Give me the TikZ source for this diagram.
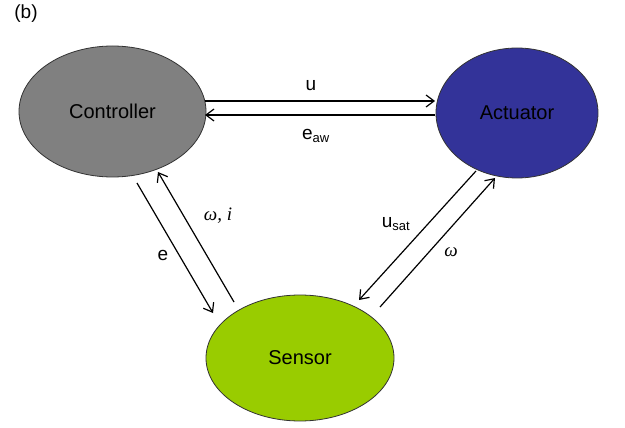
\documentclass[tikz,border=0pt]{standalone}
\usepackage{fontspec}
\setmainfont{Liberation Sans}
\newfontfamily\grfont{Liberation Serif}
\usetikzlibrary{shapes.geometric,arrows.meta,calc}
\definecolor{ctrlgray}{RGB}{128,128,128}
\definecolor{actblue}{RGB}{51,51,153}
\definecolor{sensgreen}{RGB}{153,204,0}
\tikzset{
  blob/.style={ellipse,draw=black!80,line width=0.8pt,inner sep=0pt,
    font=\fontsize{20}{24}\selectfont},
  sig/.style={line width=1.2pt,-{Straight Barb[length=8pt,width=12pt,line width=1.2pt]}},
  lbl/.style={font=\fontsize{19}{22}\selectfont,inner sep=0pt},
}
\begin{document}
\begin{tikzpicture}[x=1pt,y=-1pt]
\useasboundingbox (0,0) rectangle (625,428);
\node[lbl,anchor=center] (tag) at (26,14) {(b)};
\node[blob,fill=ctrlgray,minimum width=187pt,minimum height=131pt] (ctrl) at (112.5,111.5) {Controller};
\node[blob,fill=actblue,minimum width=162pt,minimum height=130pt] (act) at (517,113) {Actuator};
\node[blob,fill=sensgreen,minimum width=188pt,minimum height=126pt] (sens) at (300,358) {\raisebox{-3pt}{Sensor}};
% Controller <-> Actuator
\draw[sig] ($(ctrl.center)+(92.5,-10.5)$) -- ($(act.center)+(-82,-12)$);
\draw[sig] ($(act.center)+(-82,2)$) -- ($(ctrl.center)+(92.5,3.5)$);
\node[lbl] (lu) at (311,86) {u};
\node[lbl] (leaw) at (316,136) {e\textsubscript{\fontsize{13}{15}\selectfont aw}};
% Controller <-> Sensor
\draw[sig] ($(ctrl.center)+(24.5,71.5)$) -- ($(sens.center)+(-87,-45)$);
\draw[sig] ($(sens.center)+(-66,-56)$) -- ($(ctrl.center)+(45.5,60.5)$);
\node[lbl] (le) at (163,255) {e};
\node[lbl] (lwi) at (218,216) {\grfont\itshape ω, i};
% Actuator <-> Sensor
\draw[sig] ($(act.center)+(-41,58)$) -- ($(sens.center)+(59,-58)$);
\draw[sig] ($(sens.center)+(80,-51)$) -- ($(act.center)+(-22,65)$);
\node[lbl] (lusat) at (396,224) {u\textsubscript{\fontsize{13}{15}\selectfont sat}};
\node[lbl] (lw) at (451,252) {\grfont\itshape ω};
\end{tikzpicture}
\end{document}
